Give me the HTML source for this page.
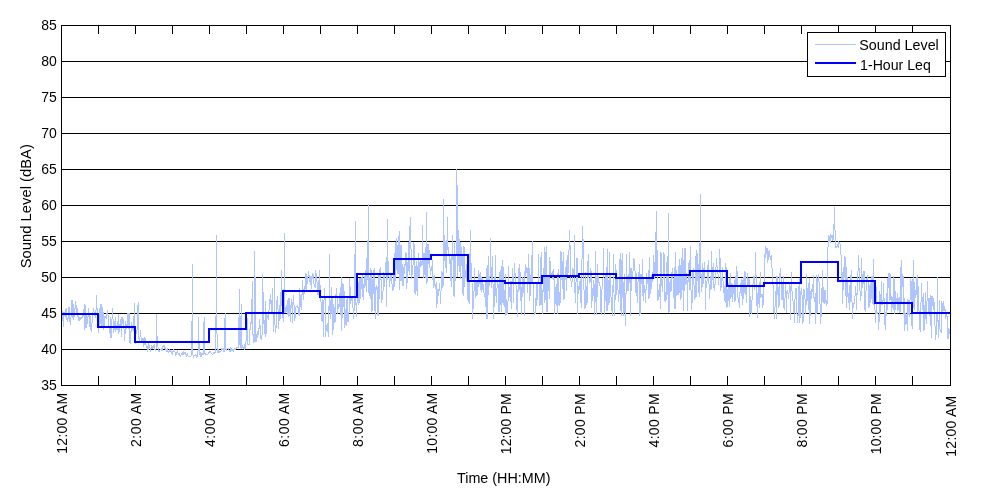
<!DOCTYPE html>
<html lang="en"><head><meta charset="utf-8"><title>Sound Level</title>
<style>html,body{margin:0;padding:0;background:#fff;}body{width:1000px;height:500px;overflow:hidden;}svg{display:block;}</style></head>
<body>
<svg width="1000" height="500" viewBox="0 0 1000 500">
<rect width="1000" height="500" fill="#fff"/>
<g stroke="#000" stroke-width="1" shape-rendering="crispEdges" fill="none">
<line x1="61" y1="61.5" x2="951" y2="61.5"/>
<line x1="61" y1="97.5" x2="951" y2="97.5"/>
<line x1="61" y1="133.5" x2="951" y2="133.5"/>
<line x1="61" y1="169.5" x2="951" y2="169.5"/>
<line x1="61" y1="205.5" x2="951" y2="205.5"/>
<line x1="61" y1="241.5" x2="951" y2="241.5"/>
<line x1="61" y1="277.5" x2="951" y2="277.5"/>
<line x1="61" y1="313.5" x2="951" y2="313.5"/>
<line x1="61" y1="349.5" x2="951" y2="349.5"/>
</g>
<polyline points="61.5,296.4 62.1,313.9 62.7,315.7 63.4,326.3 64.0,311.9 64.6,314.7 65.2,316.7 65.8,309.6 66.4,308.8 67.1,321.6 67.7,320.2 68.3,316.9 68.9,307.0 69.5,308.3 70.1,324.4 70.8,322.9 71.4,307.1 72.0,300.1 72.6,314.0 73.2,319.7 73.8,304.6 74.5,316.8 75.1,308.0 75.7,301.1 76.3,309.1 76.9,314.0 77.6,308.5 78.2,320.4 78.8,316.6 79.4,320.1 80.0,317.0 80.6,319.6 81.3,317.2 81.9,319.0 82.5,315.1 83.1,315.4 83.7,313.6 84.3,304.2 85.0,329.6 85.6,305.4 86.2,318.6 86.8,327.3 87.4,318.4 88.0,316.2 88.7,308.0 89.3,326.4 89.9,315.6 90.5,316.5 91.1,332.1 91.8,328.0 92.4,312.8 93.0,312.1 93.6,308.9 94.2,313.8 94.8,315.1 95.5,317.5 96.1,308.4 96.7,295.5 97.3,320.2 97.9,315.8 98.5,332.8 99.2,308.2 99.8,326.4 100.4,320.4 101.0,303.9 101.6,327.3 102.2,324.9 102.9,307.3 103.5,330.0 104.1,324.7 104.7,316.8 105.3,317.5 105.9,316.5 106.6,318.6 107.2,310.6 107.8,313.6 108.4,317.3 109.0,328.3 109.7,328.7 110.3,337.2 110.9,317.3 111.5,337.5 112.1,316.1 112.7,308.2 113.4,332.7 114.0,329.8 114.6,328.2 115.2,317.5 115.8,331.8 116.4,325.9 117.1,329.4 117.7,327.3 118.3,314.7 118.9,333.6 119.5,325.2 120.1,323.7 120.8,319.1 121.4,336.8 122.0,317.4 122.6,323.2 123.2,319.7 123.9,326.5 124.5,340.8 125.1,332.8 125.7,321.0 126.3,327.6 126.9,328.5 127.6,313.6 128.2,313.0 128.8,329.0 129.4,313.4 130.0,342.9 130.6,343.1 131.3,322.4 131.9,331.8 132.5,325.1 133.1,325.8 133.7,330.9 134.3,303.4 135.0,329.4 135.6,343.2 136.2,330.8 136.8,332.9 137.4,324.9 138.1,302.7 138.7,337.1 139.3,340.2 139.9,339.2 140.5,330.5 141.1,337.9 141.8,342.8 142.4,340.5 143.0,338.3 143.6,347.0 144.2,344.4 144.8,337.4 145.5,341.1 146.1,345.4 146.7,347.7 147.3,346.6 147.9,351.9 148.5,342.9 149.2,345.2 149.8,346.1 150.4,351.3 151.0,349.4 151.6,345.2 152.3,346.3 152.9,348.9 153.5,345.7 154.1,344.5 154.7,349.9 155.3,349.5 156.0,350.7 156.6,314.2 157.2,345.8 157.8,346.8 158.4,347.5 159.0,352.0 159.7,351.8 160.3,349.1 160.9,350.2 161.5,348.9 162.1,351.2 162.7,347.7 163.4,345.0 164.0,345.8 164.6,345.9 165.2,349.8 165.8,347.9 166.5,351.2 167.1,348.3 167.7,351.4 168.3,351.8 168.9,352.2 169.5,349.5 170.2,350.5 170.8,350.9 171.4,353.7 172.0,351.2 172.6,354.4 173.2,349.0 173.9,352.2 174.5,351.7 175.1,352.4 175.7,355.1 176.3,354.9 176.9,352.6 177.6,350.2 178.2,354.7 178.8,354.2 179.4,353.2 180.0,356.0 180.7,356.1 181.3,354.2 181.9,353.7 182.5,354.4 183.1,351.6 183.7,354.3 184.4,353.6 185.0,352.0 185.6,352.0 186.2,356.8 186.8,355.2 187.4,353.3 188.1,356.8 188.7,356.3 189.3,356.9 189.9,357.0 190.5,356.9 191.1,355.4 191.8,354.0 192.4,264.5 193.0,355.4 193.6,357.4 194.2,355.3 194.8,355.6 195.5,354.7 196.1,355.2 196.7,357.1 197.3,354.4 197.9,357.0 198.6,317.8 199.2,354.3 199.8,354.2 200.4,352.5 201.0,356.7 201.6,353.9 202.3,353.4 202.9,354.7 203.5,353.3 204.1,317.1 204.7,353.1 205.3,353.2 206.0,355.2 206.6,354.7 207.2,354.0 207.8,354.6 208.4,352.1 209.0,353.3 209.7,351.6 210.3,351.7 210.9,353.1 211.5,353.4 212.1,354.4 212.8,354.0 213.4,353.9 214.0,352.1 214.6,353.8 215.2,352.3 215.8,352.0 216.5,235.7 217.1,352.3 217.7,349.8 218.3,349.4 218.9,352.9 219.5,351.9 220.2,352.0 220.8,351.8 221.4,348.9 222.0,350.1 222.6,349.1 223.2,348.2 223.9,351.4 224.5,350.9 225.1,313.5 225.7,348.8 226.3,350.4 227.0,349.2 227.6,348.2 228.2,348.1 228.8,349.1 229.4,350.9 230.0,352.0 230.7,347.7 231.3,348.6 231.9,350.7 232.5,349.9 233.1,349.7 233.7,351.5 234.4,348.4 235.0,349.9 235.6,349.0 236.2,347.2 236.8,348.4 237.4,347.3 238.1,347.4 238.7,347.9 239.3,289.7 239.9,344.7 240.5,347.9 241.2,304.9 241.8,348.8 242.4,346.0 243.0,346.8 243.6,348.2 244.2,349.7 244.9,344.1 245.5,348.6 246.1,339.3 246.7,326.6 247.3,318.8 247.9,344.6 248.6,344.4 249.2,344.2 249.8,329.7 250.4,329.2 251.0,322.2 251.6,323.6 252.3,281.1 252.9,332.5 253.5,342.5 254.1,342.0 254.7,251.6 255.4,307.9 256.0,341.6 256.6,339.5 257.2,331.3 257.8,337.9 258.4,330.2 259.1,328.2 259.7,319.2 260.3,329.5 260.9,338.9 261.5,339.2 262.1,334.6 262.8,274.6 263.4,323.3 264.0,320.3 264.6,328.4 265.2,337.0 265.8,301.9 266.5,333.4 267.1,315.1 267.7,316.6 268.3,320.0 268.9,312.3 269.6,299.7 270.2,303.3 270.8,294.2 271.4,313.4 272.0,300.1 272.6,288.3 273.3,331.1 273.9,326.3 274.5,278.2 275.1,333.0 275.7,327.7 276.3,327.9 277.0,299.6 277.6,296.8 278.2,314.0 278.8,328.8 279.4,305.9 280.0,319.4 280.7,316.2 281.3,270.3 281.9,303.2 282.5,317.6 283.1,312.4 283.8,321.3 284.4,233.6 285.0,313.2 285.6,310.9 286.2,305.1 286.8,311.2 287.5,300.3 288.1,317.2 288.7,298.2 289.3,298.5 289.9,314.8 290.5,321.7 291.2,299.9 291.8,300.3 292.4,322.3 293.0,302.1 293.6,295.7 294.2,308.7 294.9,320.5 295.5,307.6 296.1,306.9 296.7,306.7 297.3,307.9 297.9,305.6 298.6,312.5 299.2,315.4 299.8,288.6 300.4,306.3 301.0,304.6 301.7,309.3 302.3,280.5 302.9,293.2 303.5,300.0 304.1,286.6 304.7,293.5 305.4,283.9 306.0,273.4 306.6,291.0 307.2,280.5 307.8,279.3 308.4,271.4 309.1,275.3 309.7,278.7 310.3,284.5 310.9,276.6 311.5,288.2 312.1,273.7 312.8,278.9 313.4,274.8 314.0,284.0 314.6,286.5 315.2,287.6 315.9,270.4 316.5,281.8 317.1,282.0 317.7,294.7 318.3,280.7 318.9,294.8 319.6,270.1 320.2,290.6 320.8,293.2 321.4,318.5 322.0,321.0 322.6,299.8 323.3,336.5 323.9,302.7 324.5,288.9 325.1,298.8 325.7,337.0 326.3,325.3 327.0,327.5 327.6,323.8 328.2,336.1 328.8,335.8 329.4,254.5 330.1,318.3 330.7,300.9 331.3,313.8 331.9,286.9 332.5,334.5 333.1,329.6 333.8,304.7 334.4,312.5 335.0,323.0 335.6,296.9 336.2,292.2 336.8,288.9 337.5,313.8 338.1,308.0 338.7,304.6 339.3,307.0 339.9,293.0 340.5,314.2 341.2,277.5 341.8,330.4 342.4,295.9 343.0,283.5 343.6,306.3 344.3,291.4 344.9,328.0 345.5,309.6 346.1,325.6 346.7,300.3 347.3,297.3 348.0,322.2 348.6,314.9 349.2,311.2 349.8,278.5 350.4,303.9 351.0,301.1 351.7,297.8 352.3,298.4 352.9,304.9 353.5,318.4 354.1,309.9 354.7,280.7 355.4,221.3 356.0,305.2 356.6,316.8 357.2,296.6 357.8,292.8 358.5,304.1 359.1,278.1 359.7,302.7 360.3,295.5 360.9,278.3 361.5,288.6 362.2,273.1 362.8,295.9 363.4,299.2 364.0,283.7 364.6,287.8 365.2,270.9 365.9,284.2 366.5,291.5 367.1,251.6 367.7,279.3 368.3,204.8 368.9,292.8 369.6,296.0 370.2,268.9 370.8,298.4 371.4,270.8 372.0,311.9 372.6,290.3 373.3,270.1 373.9,293.6 374.5,268.2 375.1,319.1 375.7,288.0 376.4,285.4 377.0,290.0 377.6,314.1 378.2,275.0 378.8,316.1 379.4,269.3 380.1,280.2 380.7,267.8 381.3,288.6 381.9,302.6 382.5,291.9 383.1,290.5 383.8,272.4 384.4,286.9 385.0,274.5 385.6,272.9 386.2,257.4 386.8,306.7 387.5,219.5 388.1,267.9 388.7,267.4 389.3,286.2 389.9,281.1 390.6,278.0 391.2,274.1 391.8,283.9 392.4,284.5 393.0,290.8 393.6,279.5 394.3,253.5 394.9,286.5 395.5,259.1 396.1,238.6 396.7,269.7 397.3,245.6 398.0,274.4 398.6,248.2 399.2,231.4 399.8,289.6 400.4,266.8 401.0,244.6 401.7,280.2 402.3,264.5 402.9,286.0 403.5,284.3 404.1,264.5 404.8,273.8 405.4,252.3 406.0,252.0 406.6,288.2 407.2,280.8 407.8,269.8 408.5,242.7 409.1,275.1 409.7,235.7 410.3,217.7 410.9,242.1 411.5,278.5 412.2,274.2 412.8,268.8 413.4,257.9 414.0,241.6 414.6,288.3 415.2,294.5 415.9,267.1 416.5,261.4 417.1,296.1 417.7,278.7 418.3,253.7 419.0,277.4 419.6,262.4 420.2,267.0 420.8,260.0 421.4,263.2 422.0,265.8 422.7,225.7 423.3,278.0 423.9,267.9 424.5,253.2 425.1,278.0 425.7,275.2 426.4,212.7 427.0,283.5 427.6,244.0 428.2,263.2 428.8,244.2 429.4,259.5 430.1,269.0 430.7,274.2 431.3,266.4 431.9,270.9 432.5,260.3 433.2,287.2 433.8,276.0 434.4,275.1 435.0,286.2 435.6,288.8 436.2,282.7 436.9,307.7 437.5,290.4 438.1,289.5 438.7,295.4 439.3,283.3 439.9,288.3 440.6,303.5 441.2,286.0 441.8,271.3 442.4,273.1 443.0,287.7 443.6,199.7 444.3,260.2 444.9,257.3 445.5,241.9 446.1,272.8 446.7,257.1 447.4,217.7 448.0,250.4 448.6,247.4 449.2,258.6 449.8,254.1 450.4,280.4 451.1,256.0 451.7,286.8 452.3,235.0 452.9,246.6 453.5,292.5 454.1,296.3 454.8,243.7 455.4,280.9 456.0,256.6 456.6,169.5 457.2,191.8 457.8,277.1 458.5,230.7 459.1,271.5 459.7,239.5 460.3,278.8 460.9,242.8 461.6,265.6 462.2,255.9 462.8,293.4 463.4,295.5 464.0,246.1 464.6,286.7 465.3,270.8 465.9,270.3 466.5,280.7 467.1,260.7 467.7,297.8 468.3,301.9 469.0,273.8 469.6,303.3 470.2,230.7 470.8,278.3 471.4,263.6 472.0,281.8 472.7,318.7 473.3,300.7 473.9,296.6 474.5,268.6 475.1,283.7 475.7,297.9 476.4,282.1 477.0,295.7 477.6,280.2 478.2,286.9 478.8,270.6 479.5,283.8 480.1,272.5 480.7,289.7 481.3,277.3 481.9,292.1 482.5,278.5 483.2,285.6 483.8,291.6 484.4,296.6 485.0,294.1 485.6,281.3 486.2,318.4 486.9,268.2 487.5,318.4 488.1,255.9 488.7,295.0 489.3,276.7 489.9,285.3 490.6,238.6 491.2,287.9 491.8,273.1 492.4,256.9 493.0,282.8 493.7,318.3 494.3,296.4 494.9,282.1 495.5,255.5 496.1,302.3 496.7,295.6 497.4,279.6 498.0,283.6 498.6,311.8 499.2,272.9 499.8,311.7 500.4,293.7 501.1,266.5 501.7,311.7 502.3,295.0 502.9,260.5 503.5,293.5 504.1,307.0 504.8,299.0 505.4,274.7 506.0,315.9 506.6,299.8 507.2,313.8 507.9,308.6 508.5,266.7 509.1,290.1 509.7,296.1 510.3,281.2 510.9,300.7 511.6,309.0 512.2,268.7 512.8,273.2 513.4,302.7 514.0,276.0 514.6,263.0 515.3,279.5 515.9,279.3 516.5,309.1 517.1,290.0 517.7,316.7 518.3,268.5 519.0,290.5 519.6,264.8 520.2,300.7 520.8,272.3 521.4,314.5 522.1,294.1 522.7,277.7 523.3,280.9 523.9,288.0 524.5,315.2 525.1,264.1 525.8,275.4 526.4,267.1 527.0,267.2 527.6,293.0 528.2,279.7 528.8,254.0 529.5,300.7 530.1,279.2 530.7,295.8 531.3,255.9 531.9,283.0 532.5,241.5 533.2,296.3 533.8,310.1 534.4,314.7 535.0,314.7 535.6,298.2 536.3,305.1 536.9,282.9 537.5,299.7 538.1,281.4 538.7,254.6 539.3,305.6 540.0,306.1 540.6,268.0 541.2,252.5 541.8,300.0 542.4,313.8 543.0,289.8 543.7,291.8 544.3,247.3 544.9,303.1 545.5,289.2 546.1,245.8 546.7,312.0 547.4,311.9 548.0,276.8 548.6,275.1 549.2,298.4 549.8,257.3 550.4,268.2 551.1,276.4 551.7,273.8 552.3,278.3 552.9,271.8 553.5,269.2 554.2,283.1 554.8,313.5 555.4,287.2 556.0,298.9 556.6,305.2 557.2,273.8 557.9,313.5 558.5,269.6 559.1,295.5 559.7,305.8 560.3,299.5 560.9,251.2 561.6,258.1 562.2,289.1 562.8,265.2 563.4,252.6 564.0,299.5 564.6,289.1 565.3,267.7 565.9,276.9 566.5,290.6 567.1,255.0 567.7,274.9 568.4,269.8 569.0,250.7 569.6,230.7 570.2,250.6 570.8,278.3 571.4,286.6 572.1,281.4 572.7,268.1 573.3,271.9 573.9,277.0 574.5,235.7 575.1,303.1 575.8,288.3 576.4,270.5 577.0,257.6 577.6,313.1 578.2,286.2 578.8,291.8 579.5,285.5 580.1,279.7 580.7,298.9 581.3,307.4 581.9,265.5 582.6,226.4 583.2,245.1 583.8,286.0 584.4,296.3 585.0,309.3 585.6,272.3 586.3,296.0 586.9,304.2 587.5,295.0 588.1,254.7 588.7,276.3 589.3,280.1 590.0,282.7 590.6,268.9 591.2,271.3 591.8,307.9 592.4,288.9 593.0,296.3 593.7,280.8 594.3,285.9 594.9,314.2 595.5,251.6 596.1,280.3 596.8,314.4 597.4,264.5 598.0,282.9 598.6,276.7 599.2,284.8 599.8,282.5 600.5,294.5 601.1,314.7 601.7,296.7 602.3,282.5 602.9,285.1 603.5,248.7 604.2,287.7 604.8,315.0 605.4,273.0 606.0,300.7 606.6,310.4 607.2,249.4 607.9,310.9 608.5,280.1 609.1,303.2 609.7,252.3 610.3,291.3 611.0,296.8 611.6,298.7 612.2,315.6 612.8,302.7 613.4,254.5 614.0,293.1 614.7,315.8 615.3,286.6 615.9,264.2 616.5,295.0 617.1,288.3 617.7,279.7 618.4,301.6 619.0,295.1 619.6,270.2 620.2,253.7 620.8,309.0 621.4,315.9 622.1,253.0 622.7,279.0 623.3,315.2 623.9,284.1 624.5,274.8 625.2,325.7 625.8,315.8 626.4,254.5 627.0,276.0 627.6,290.1 628.2,274.5 628.9,290.5 629.5,252.3 630.1,270.7 630.7,315.7 631.3,268.7 631.9,279.3 632.6,272.9 633.2,270.1 633.8,258.7 634.4,260.7 635.0,270.5 635.6,292.9 636.3,273.9 636.9,294.5 637.5,302.8 638.1,277.9 638.7,279.6 639.3,264.9 640.0,315.5 640.6,275.3 641.2,273.9 641.8,283.7 642.4,259.6 643.1,301.0 643.7,279.7 644.3,292.1 644.9,285.8 645.5,302.5 646.1,288.0 646.8,273.7 647.4,283.4 648.0,279.5 648.6,298.9 649.2,257.8 649.8,297.6 650.5,285.1 651.1,275.2 651.7,288.6 652.3,272.3 652.9,282.1 653.5,255.8 654.2,275.9 654.8,278.4 655.4,232.9 656.0,277.1 656.6,211.3 657.3,277.7 657.9,301.0 658.5,294.2 659.1,288.7 659.7,284.2 660.3,308.6 661.0,252.4 661.6,286.0 662.2,282.2 662.8,291.8 663.4,257.3 664.0,251.8 664.7,300.4 665.3,292.8 665.9,301.7 666.5,293.2 667.1,256.7 667.7,294.4 668.4,213.4 669.0,312.9 669.6,289.4 670.2,279.0 670.8,291.4 671.5,289.8 672.1,268.7 672.7,273.3 673.3,284.3 673.9,296.1 674.5,308.6 675.2,252.7 675.8,309.1 676.4,270.6 677.0,285.2 677.6,294.5 678.2,266.0 678.9,294.5 679.5,259.2 680.1,299.3 680.7,272.4 681.3,258.6 681.9,297.9 682.6,248.1 683.2,265.6 683.8,310.6 684.4,256.0 685.0,247.6 685.7,284.8 686.3,283.5 686.9,273.4 687.5,310.1 688.1,277.0 688.7,263.2 689.4,289.3 690.0,259.8 690.6,246.5 691.2,309.5 691.8,309.5 692.4,291.8 693.1,268.2 693.7,272.7 694.3,295.6 694.9,299.4 695.5,292.4 696.1,249.9 696.8,296.3 697.4,253.7 698.0,263.1 698.6,284.5 699.2,297.1 699.9,255.0 700.5,194.7 701.1,291.8 701.7,286.5 702.3,263.9 702.9,286.2 703.6,275.5 704.2,264.7 704.8,262.9 705.4,309.4 706.0,288.3 706.6,285.7 707.3,278.3 707.9,266.9 708.5,260.2 709.1,287.7 709.7,298.8 710.3,276.8 711.0,290.2 711.6,251.0 712.2,274.1 712.8,279.2 713.4,263.5 714.1,291.2 714.7,285.9 715.3,283.2 715.9,269.4 716.5,258.6 717.1,267.2 717.8,267.8 718.4,284.1 719.0,274.2 719.6,249.4 720.2,261.4 720.8,290.9 721.5,281.8 722.1,276.7 722.7,267.8 723.3,292.6 723.9,284.5 724.5,294.2 725.2,302.7 725.8,263.2 726.4,273.5 727.0,307.7 727.6,302.3 728.2,283.2 728.9,299.9 729.5,306.3 730.1,273.3 730.7,298.2 731.3,296.6 732.0,283.3 732.6,301.6 733.2,291.1 733.8,289.2 734.4,280.9 735.0,302.1 735.7,276.1 736.3,286.7 736.9,266.0 737.5,288.5 738.1,299.4 738.7,299.4 739.4,308.0 740.0,292.0 740.6,292.9 741.2,279.2 741.8,290.8 742.4,304.1 743.1,277.4 743.7,298.3 744.3,288.4 744.9,271.4 745.5,274.1 746.2,302.8 746.8,294.0 747.4,273.2 748.0,278.3 748.6,284.7 749.2,279.8 749.9,317.0 750.5,296.9 751.1,313.3 751.7,301.9 752.3,298.3 752.9,286.1 753.6,276.2 754.2,281.8 754.8,289.2 755.4,252.3 756.0,275.0 756.6,289.6 757.3,317.3 757.9,294.5 758.5,286.4 759.1,307.5 759.7,290.6 760.4,272.1 761.0,297.5 761.6,294.7 762.2,294.6 762.8,308.0 763.4,300.9 764.1,280.9 764.7,254.0 765.3,257.9 765.9,246.3 766.5,254.0 767.1,247.8 767.8,262.8 768.4,254.6 769.0,250.8 769.6,250.3 770.2,260.0 770.8,256.7 771.5,255.6 772.1,269.9 772.7,284.5 773.3,285.3 773.9,312.3 774.6,318.5 775.2,302.4 775.8,291.2 776.4,318.8 777.0,275.8 777.6,294.1 778.3,287.1 778.9,307.9 779.5,296.3 780.1,268.9 780.7,268.3 781.3,286.5 782.0,299.9 782.6,297.5 783.2,276.3 783.8,306.6 784.4,310.0 785.0,298.2 785.7,282.6 786.3,312.5 786.9,291.1 787.5,290.9 788.1,294.6 788.8,299.0 789.4,282.7 790.0,288.1 790.6,319.3 791.2,272.5 791.8,290.2 792.5,292.5 793.1,302.9 793.7,302.1 794.3,322.1 794.9,301.4 795.5,288.7 796.2,288.4 796.8,308.7 797.4,322.6 798.0,316.0 798.6,303.3 799.2,278.4 799.9,323.1 800.5,298.3 801.1,289.3 801.7,288.9 802.3,300.2 803.0,323.6 803.6,289.2 804.2,296.7 804.8,290.2 805.4,313.7 806.0,306.3 806.7,274.8 807.3,300.0 807.9,298.6 808.5,309.8 809.1,278.5 809.7,323.6 810.4,306.7 811.0,291.5 811.6,298.9 812.2,284.3 812.8,291.5 813.4,275.3 814.1,301.7 814.7,300.1 815.3,293.6 815.9,323.6 816.5,275.5 817.1,312.3 817.8,279.8 818.4,274.9 819.0,281.6 819.6,294.5 820.2,307.7 820.9,323.6 821.5,288.6 822.1,301.3 822.7,270.2 823.3,302.2 823.9,287.5 824.6,303.9 825.2,290.6 825.8,303.0 826.4,300.1 827.0,305.9 827.6,256.4 828.3,239.8 828.9,235.4 829.5,238.2 830.1,242.3 830.7,234.0 831.3,237.4 832.0,235.0 832.6,240.6 833.2,239.3 833.8,232.6 834.4,207.7 835.1,233.1 835.7,247.4 836.3,246.3 836.9,247.9 837.5,244.4 838.1,247.6 838.8,241.7 839.4,243.6 840.0,243.7 840.6,247.1 841.2,258.8 841.8,270.3 842.5,303.3 843.1,267.0 843.7,290.0 844.3,266.8 844.9,256.2 845.5,261.6 846.2,307.6 846.8,267.8 847.4,294.5 848.0,296.4 848.6,293.2 849.3,309.7 849.9,285.1 850.5,301.8 851.1,270.0 851.7,283.9 852.3,318.5 853.0,306.4 853.6,307.3 854.2,301.8 854.8,301.4 855.4,286.4 856.0,292.9 856.7,309.1 857.3,282.7 857.9,274.5 858.5,255.2 859.1,270.0 859.7,283.0 860.4,300.2 861.0,297.5 861.6,258.8 862.2,281.5 862.8,287.8 863.5,273.9 864.1,271.0 864.7,308.5 865.3,311.2 865.9,293.0 866.5,283.4 867.2,275.6 867.8,280.2 868.4,280.7 869.0,307.5 869.6,285.0 870.2,302.7 870.9,284.5 871.5,276.2 872.1,303.4 872.7,296.0 873.3,259.4 873.9,305.0 874.6,300.8 875.2,314.0 875.8,322.7 876.4,287.1 877.0,313.6 877.7,312.7 878.3,315.6 878.9,329.4 879.5,291.1 880.1,311.8 880.7,303.9 881.4,281.4 882.0,305.4 882.6,301.1 883.2,300.4 883.8,283.0 884.4,324.6 885.1,312.2 885.7,329.7 886.3,302.9 886.9,293.1 887.5,310.0 888.1,273.5 888.8,287.7 889.4,273.5 890.0,300.5 890.6,274.4 891.2,311.2 891.9,296.4 892.5,301.0 893.1,309.7 893.7,276.7 894.3,281.9 894.9,313.7 895.6,291.8 896.2,301.2 896.8,300.2 897.4,293.1 898.0,310.5 898.6,299.6 899.3,297.8 899.9,312.2 900.5,310.7 901.1,260.2 901.7,302.1 902.3,274.1 903.0,274.1 903.6,314.4 904.2,298.0 904.8,330.5 905.4,313.7 906.0,317.7 906.7,315.8 907.3,330.6 907.9,299.6 908.5,301.6 909.1,316.8 909.8,305.3 910.4,289.4 911.0,278.7 911.6,325.2 912.2,279.7 912.8,329.1 913.5,260.2 914.1,310.2 914.7,282.8 915.3,296.7 915.9,297.4 916.5,283.9 917.2,275.3 917.8,313.2 918.4,286.5 919.0,310.6 919.6,325.7 920.2,331.7 920.9,306.5 921.5,283.1 922.1,299.1 922.7,309.1 923.3,293.5 924.0,331.0 924.6,305.0 925.2,318.6 925.8,292.9 926.4,323.4 927.0,301.5 927.7,281.8 928.3,312.9 928.9,304.2 929.5,315.6 930.1,295.1 930.7,317.4 931.4,337.2 932.0,296.3 932.6,298.2 933.2,309.5 933.8,298.3 934.4,307.8 935.1,328.0 935.7,339.3 936.3,331.4 936.9,322.0 937.5,277.5 938.2,337.3 938.8,331.0 939.4,300.6 940.0,329.1 940.6,329.9 941.2,333.0 941.9,301.0 942.5,311.8 943.1,311.0 943.7,301.9 944.3,310.9 944.9,306.6 945.6,319.0 946.2,313.2 946.8,316.6 947.4,316.1 948.0,339.2 948.6,328.0 949.3,330.2 949.9,334.0 950.5,327.1" fill="none" stroke="#afc5ff" stroke-width="1" stroke-linejoin="round" shape-rendering="crispEdges"/>
<path d="M61.0,314H98.0V327H135.0V342H172.0V342H209.0V329H246.0V313H283.0V291H320.0V297H357.0V274H394.0V259H431.0V255H468.0V281H505.0V283H542.0V276H579.0V274H616.0V278H653.0V275H690.0V271H727.0V286H764.0V283H801.0V262H838.0V281H875.0V303H912.0V313H950.5" fill="none" stroke="#0000ff" stroke-width="2" stroke-linejoin="miter" shape-rendering="crispEdges"/>
<g stroke="#000" stroke-width="1" shape-rendering="crispEdges" fill="none">
<rect x="61.5" y="25.5" width="889" height="360"/>
<line x1="98.5" y1="25" x2="98.5" y2="34"/>
<line x1="98.5" y1="376" x2="98.5" y2="386"/>
<line x1="135.5" y1="25" x2="135.5" y2="34"/>
<line x1="135.5" y1="376" x2="135.5" y2="386"/>
<line x1="172.5" y1="25" x2="172.5" y2="34"/>
<line x1="172.5" y1="376" x2="172.5" y2="386"/>
<line x1="209.5" y1="25" x2="209.5" y2="34"/>
<line x1="209.5" y1="376" x2="209.5" y2="386"/>
<line x1="246.5" y1="25" x2="246.5" y2="34"/>
<line x1="246.5" y1="376" x2="246.5" y2="386"/>
<line x1="283.5" y1="25" x2="283.5" y2="34"/>
<line x1="283.5" y1="376" x2="283.5" y2="386"/>
<line x1="320.5" y1="25" x2="320.5" y2="34"/>
<line x1="320.5" y1="376" x2="320.5" y2="386"/>
<line x1="357.5" y1="25" x2="357.5" y2="34"/>
<line x1="357.5" y1="376" x2="357.5" y2="386"/>
<line x1="394.5" y1="25" x2="394.5" y2="34"/>
<line x1="394.5" y1="376" x2="394.5" y2="386"/>
<line x1="431.5" y1="25" x2="431.5" y2="34"/>
<line x1="431.5" y1="376" x2="431.5" y2="386"/>
<line x1="468.5" y1="25" x2="468.5" y2="34"/>
<line x1="468.5" y1="376" x2="468.5" y2="386"/>
<line x1="505.5" y1="25" x2="505.5" y2="34"/>
<line x1="505.5" y1="376" x2="505.5" y2="386"/>
<line x1="542.5" y1="25" x2="542.5" y2="34"/>
<line x1="542.5" y1="376" x2="542.5" y2="386"/>
<line x1="579.5" y1="25" x2="579.5" y2="34"/>
<line x1="579.5" y1="376" x2="579.5" y2="386"/>
<line x1="616.5" y1="25" x2="616.5" y2="34"/>
<line x1="616.5" y1="376" x2="616.5" y2="386"/>
<line x1="653.5" y1="25" x2="653.5" y2="34"/>
<line x1="653.5" y1="376" x2="653.5" y2="386"/>
<line x1="690.5" y1="25" x2="690.5" y2="34"/>
<line x1="690.5" y1="376" x2="690.5" y2="386"/>
<line x1="727.5" y1="25" x2="727.5" y2="34"/>
<line x1="727.5" y1="376" x2="727.5" y2="386"/>
<line x1="764.5" y1="25" x2="764.5" y2="34"/>
<line x1="764.5" y1="376" x2="764.5" y2="386"/>
<line x1="801.5" y1="25" x2="801.5" y2="34"/>
<line x1="801.5" y1="376" x2="801.5" y2="386"/>
<line x1="838.5" y1="25" x2="838.5" y2="34"/>
<line x1="838.5" y1="376" x2="838.5" y2="386"/>
<line x1="875.5" y1="25" x2="875.5" y2="34"/>
<line x1="875.5" y1="376" x2="875.5" y2="386"/>
<line x1="912.5" y1="25" x2="912.5" y2="34"/>
<line x1="912.5" y1="376" x2="912.5" y2="386"/>
</g>
<rect x="807.5" y="32.5" width="138" height="44" fill="#fff" stroke="#000" stroke-width="1" shape-rendering="crispEdges"/>
<line x1="815" y1="44.5" x2="856" y2="44.5" stroke="#afc5ff" stroke-width="1" shape-rendering="crispEdges"/>
<line x1="815" y1="63" x2="856" y2="63" stroke="#0000ff" stroke-width="2" shape-rendering="crispEdges"/>
<g font-family="'Liberation Sans', Arial, Helvetica, sans-serif" font-size="14px" fill="#000" style="will-change:opacity;isolation:isolate;mix-blend-mode:multiply">
<text transform="translate(859.3,49.9) scale(1,1.050)" textLength="79.5" lengthAdjust="spacingAndGlyphs">Sound Level</text>
<text transform="translate(860.1,70.4) scale(1,1.050)" textLength="70.7" lengthAdjust="spacingAndGlyphs">1-Hour Leq</text>
<text transform="translate(56.9,29.8) scale(1,1.070)" text-anchor="end">85</text>
<text transform="translate(56.9,65.8) scale(1,1.070)" text-anchor="end">80</text>
<text transform="translate(56.9,101.8) scale(1,1.070)" text-anchor="end">75</text>
<text transform="translate(56.9,137.8) scale(1,1.070)" text-anchor="end">70</text>
<text transform="translate(56.9,173.8) scale(1,1.070)" text-anchor="end">65</text>
<text transform="translate(56.9,209.8) scale(1,1.070)" text-anchor="end">60</text>
<text transform="translate(56.9,245.8) scale(1,1.070)" text-anchor="end">55</text>
<text transform="translate(56.9,281.8) scale(1,1.070)" text-anchor="end">50</text>
<text transform="translate(56.9,317.8) scale(1,1.070)" text-anchor="end">45</text>
<text transform="translate(56.9,353.8) scale(1,1.070)" text-anchor="end">40</text>
<text transform="translate(56.9,389.8) scale(1,1.070)" text-anchor="end">35</text>
<text transform="translate(66.7,392.8) rotate(-90) scale(1,1.100)" text-anchor="end" textLength="60.9" lengthAdjust="spacing">12:00 AM</text>
<text transform="translate(140.7,392.8) rotate(-90) scale(1,1.100)" text-anchor="end" textLength="54.1" lengthAdjust="spacing">2:00 AM</text>
<text transform="translate(214.7,392.8) rotate(-90) scale(1,1.100)" text-anchor="end" textLength="54.1" lengthAdjust="spacing">4:00 AM</text>
<text transform="translate(288.7,392.8) rotate(-90) scale(1,1.100)" text-anchor="end" textLength="54.1" lengthAdjust="spacing">6:00 AM</text>
<text transform="translate(362.7,392.8) rotate(-90) scale(1,1.100)" text-anchor="end" textLength="54.1" lengthAdjust="spacing">8:00 AM</text>
<text transform="translate(436.7,392.8) rotate(-90) scale(1,1.100)" text-anchor="end" textLength="60.9" lengthAdjust="spacing">10:00 AM</text>
<text transform="translate(510.7,393.4) rotate(-90) scale(1,1.100)" text-anchor="end" textLength="60.9" lengthAdjust="spacing">12:00 PM</text>
<text transform="translate(584.7,393.4) rotate(-90) scale(1,1.100)" text-anchor="end" textLength="54.1" lengthAdjust="spacing">2:00 PM</text>
<text transform="translate(658.7,393.4) rotate(-90) scale(1,1.100)" text-anchor="end" textLength="54.1" lengthAdjust="spacing">4:00 PM</text>
<text transform="translate(732.7,393.4) rotate(-90) scale(1,1.100)" text-anchor="end" textLength="54.1" lengthAdjust="spacing">6:00 PM</text>
<text transform="translate(806.7,393.4) rotate(-90) scale(1,1.100)" text-anchor="end" textLength="54.1" lengthAdjust="spacing">8:00 PM</text>
<text transform="translate(880.7,393.4) rotate(-90) scale(1,1.100)" text-anchor="end" textLength="60.9" lengthAdjust="spacing">10:00 PM</text>
<text transform="translate(955.7,395.8) rotate(-90) scale(1,1.100)" text-anchor="end" textLength="60.9" lengthAdjust="spacing">12:00 AM</text>
<text transform="translate(31.0,206.2) rotate(-90) scale(1,1.050)" text-anchor="middle" textLength="124.2" lengthAdjust="spacingAndGlyphs">Sound Level (dBA)</text>
<text transform="translate(457.0,483.2) scale(1,1.050)" textLength="93.5" lengthAdjust="spacingAndGlyphs">Time (HH:MM)</text>
</g>
</svg>
</body></html>
